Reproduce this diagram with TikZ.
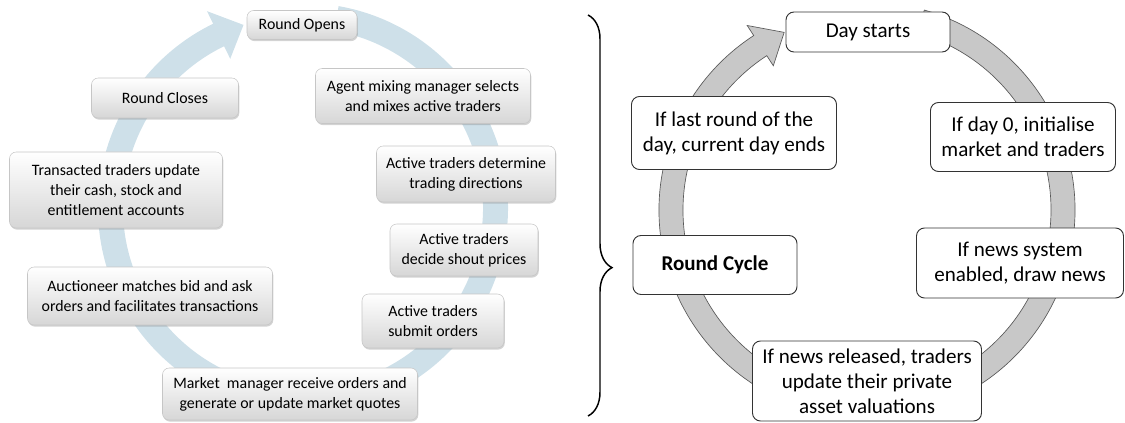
\documentclass[tikz,border=0pt]{standalone}
\usepackage{fontspec}
\setmainfont{Carlito}
\usetikzlibrary{shadows}
\usetikzlibrary{decorations.pathreplacing}
\definecolor{ringblue}{RGB}{206,224,233}
\definecolor{ringgray}{RGB}{200,200,200}

\begin{document}
\begin{tikzpicture}[x=0.75pt,y=0.75pt,
  wh/.style 2 args={minimum width=#1*0.75pt, minimum height=#2*0.75pt},
  lbox/.style={draw=gray!45, rounded corners=5pt, top color=white, bottom color=gray!32,
    drop shadow={shadow xshift=0.6pt, shadow yshift=-1.2pt, opacity=0.35},
    align=center, inner sep=0pt, font=\fontsize{11.9}{15}\selectfont},
  rbox/.style={draw=black!80, line width=0.7pt, rounded corners=6pt, fill=white,
    align=center, inner sep=0pt, font=\fontsize{15.8}{18.8}\selectfont}]
\useasboundingbox (0,0) rectangle (1125,422);

% left cycle
\begin{scope}[shift={(303,214)}]
  \fill[ringblue] (80:205) arc[start angle=80, end angle=-244, radius=205]
    -- (-244:219) -- (-252:192.5) -- (-244:166) -- (-244:180)
    arc[start angle=-244, end angle=80, radius=180] -- cycle;
\end{scope}
\node[lbox, wh={110}{29}] (open) at (302,397) {Round Opens};
\node[lbox, wh={215}{55}] (mix) at (423,326) {Agent mixing manager selects\\and mixes active traders};
\node[lbox, wh={147}{40}] (closes) at (165,324) {Round Closes};
\node[lbox, wh={179}{56}] (direct) at (466,248) {Active traders determine\\trading directions};
\node[lbox, wh={213}{76}] (update) at (116,232) {Transacted traders update\\their cash, stock and\\entitlement accounts};
\node[lbox, wh={148}{52}] (shout) at (464,172) {Active traders\\decide shout prices};
\node[lbox, wh={245}{58}] (auction) at (150,126) {Auctioneer matches bid and ask\\orders and facilitates transactions};
\node[lbox, wh={142}{54}] (submit) at (433,101) {Active traders\\submit orders};
\node[lbox, wh={255}{52}] (quotes) at (290,28) {Market~ manager receive orders and\\generate or update market quotes};

% brace
\draw[line width=1.1pt, decorate, decoration={brace, amplitude=18pt, aspect=0.63}]
  (588,407) -- (588,6);

% right cycle
\begin{scope}[shift={(867,212)}]
  \filldraw[fill=ringgray, draw=black!65, line width=0.5pt]
    (74:208) arc[start angle=74, end angle=-237, radius=208]
    -- (-237:220) -- (-245:196) -- (-237:172) -- (-237:184)
    arc[start angle=-237, end angle=74, radius=184] -- cycle;
\end{scope}
\node[rbox, wh={164}{40}] (daystart) at (868,390) {Day starts};
\node[rbox, wh={205}{73}] (lastround) at (734,289) {If last round of the\\day, current day ends};
\node[rbox, wh={185}{69}] (dayzero) at (1023,285) {If day 0, initialise\\market and traders};
\node[rbox, wh={164}{59}] (cycle) at (715,157) {\textbf{Round Cycle}};
\node[rbox, wh={207}{70}] (newssys) at (1020,159) {If news system\\enabled, draw news};
\node[rbox, wh={229}{80}] (released) at (867,41) {If news released, traders\\update their private\\asset valuations};
\end{tikzpicture}
\end{document}
